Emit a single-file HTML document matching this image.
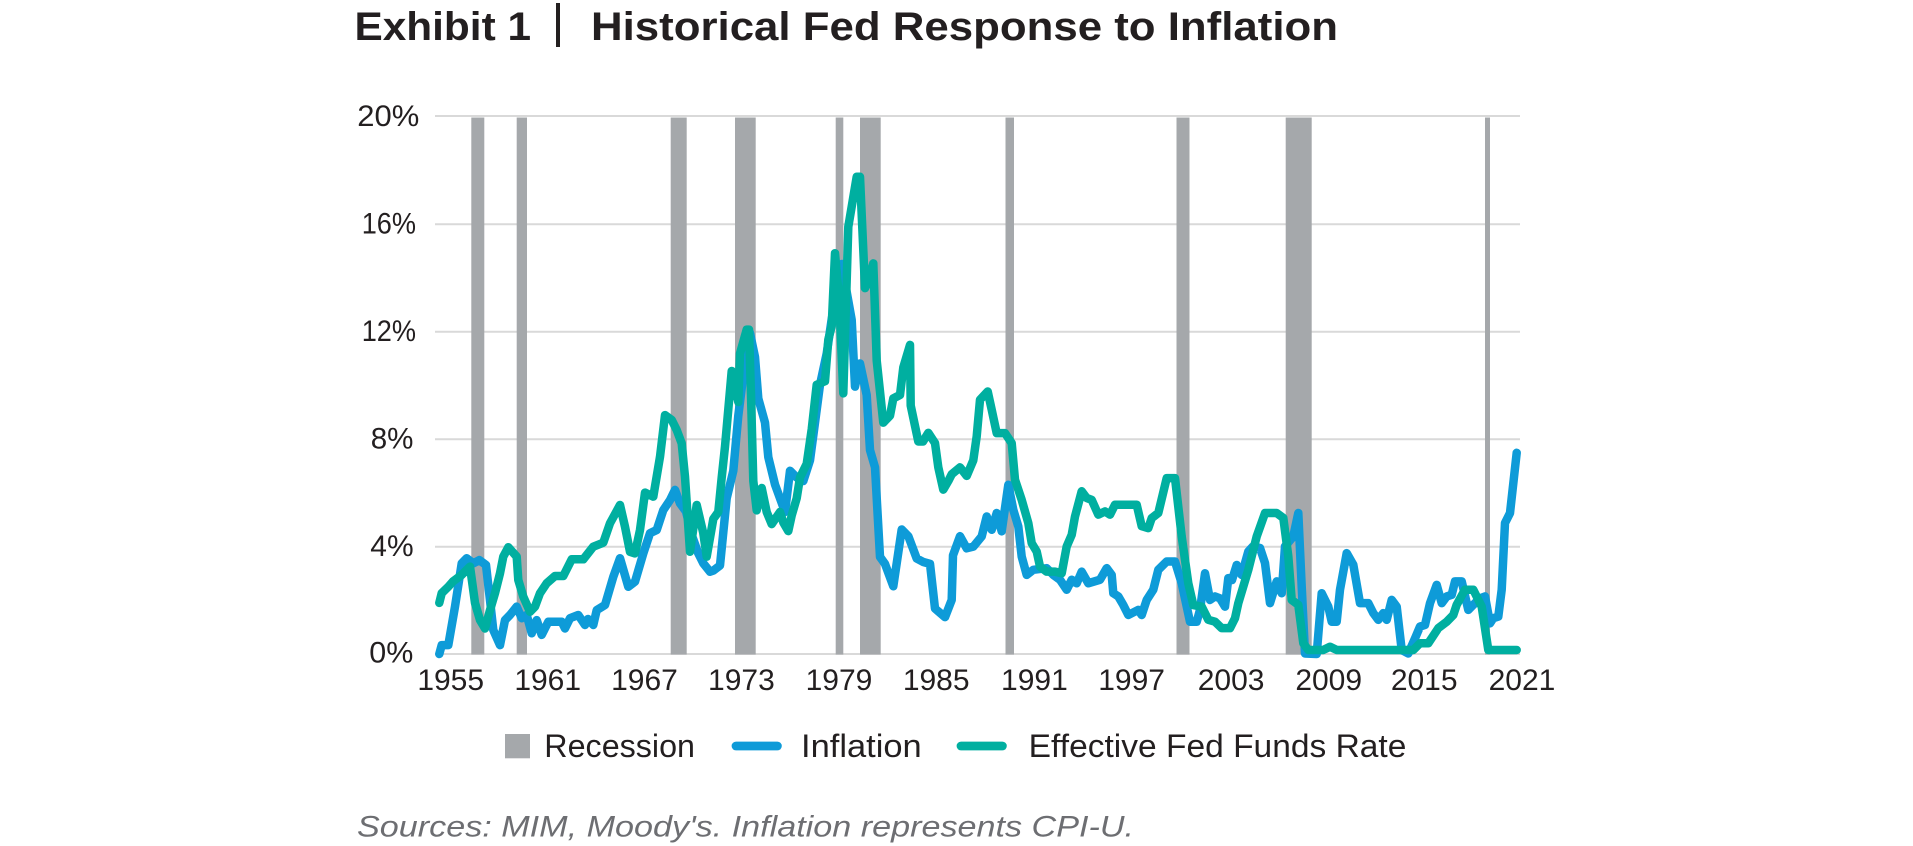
<!DOCTYPE html>
<html>
<head>
<meta charset="utf-8">
<style>
  html,body{margin:0;padding:0;background:#ffffff;}
  body{width:1913px;height:846px;overflow:hidden;}
  svg{display:block;}
  text{font-family:"Liberation Sans",sans-serif;fill:#231f20;}
</style>
</head>
<body>
<svg width="1913" height="846" viewBox="0 0 1913 846" xmlns="http://www.w3.org/2000/svg">
  <!-- Title -->
  <text x="354.5" y="40" font-size="40" font-weight="bold" textLength="176.5" lengthAdjust="spacingAndGlyphs">Exhibit 1</text>
  <rect x="556" y="3" width="4" height="44" fill="#231f20"/>
  <text x="591" y="40" font-size="40" font-weight="bold" textLength="747" lengthAdjust="spacingAndGlyphs">Historical Fed Response to Inflation</text>

  <!-- Gridlines -->
  <g stroke="#d9d9d9" stroke-width="2">
    <line x1="435" y1="116" x2="1520" y2="116"/>
    <line x1="435" y1="224.3" x2="1520" y2="224.3"/>
    <line x1="435" y1="331.7" x2="1520" y2="331.7"/>
    <line x1="435" y1="439.3" x2="1520" y2="439.3"/>
    <line x1="435" y1="546.7" x2="1520" y2="546.7"/>
    <line x1="435" y1="654" x2="1520" y2="654"/>
  </g>

  <!-- Recession bars -->
  <g fill="#a5a8ab">
    <rect x="471.3" y="117.5" width="13" height="537"/>
    <rect x="516.7" y="117.5" width="10.3" height="537"/>
    <rect x="670.7" y="117.5" width="16" height="537"/>
    <rect x="735" y="117.5" width="20.7" height="537"/>
    <rect x="835.7" y="117.5" width="7.6" height="537"/>
    <rect x="860" y="117.5" width="20.7" height="537"/>
    <rect x="1005.5" y="117.5" width="8.5" height="537"/>
    <rect x="1176.5" y="117.5" width="13" height="537"/>
    <rect x="1285.7" y="117.5" width="26" height="537"/>
    <rect x="1485" y="117.5" width="5" height="537"/>
  </g>

  <!-- Y labels -->
  <g font-size="30">
    <text x="357.3" y="126" textLength="62" lengthAdjust="spacingAndGlyphs">20%</text>
    <text x="361.7" y="233.5" textLength="54.3" lengthAdjust="spacingAndGlyphs">16%</text>
    <text x="361.7" y="340.8" textLength="54.3" lengthAdjust="spacingAndGlyphs">12%</text>
    <text x="370.7" y="448.6" textLength="42.7" lengthAdjust="spacingAndGlyphs">8%</text>
    <text x="370.3" y="555.8" textLength="43.3" lengthAdjust="spacingAndGlyphs">4%</text>
    <text x="369.3" y="662.3" textLength="44" lengthAdjust="spacingAndGlyphs">0%</text>
  </g>

  <!-- X labels -->
  <g font-size="30" text-anchor="middle">
    <text x="450.7" y="690">1955</text>
    <text x="547.7" y="690">1961</text>
    <text x="644.5" y="690">1967</text>
    <text x="741.4" y="690">1973</text>
    <text x="839" y="690">1979</text>
    <text x="936.2" y="690">1985</text>
    <text x="1034.4" y="690">1991</text>
    <text x="1131.6" y="690">1997</text>
    <text x="1231.1" y="690">2003</text>
    <text x="1328.7" y="690">2009</text>
    <text x="1424.2" y="690">2015</text>
    <text x="1522" y="690">2021</text>
  </g>

  <!-- Series -->
  <g transform="matrix(1,0,0,-26.9,0,654)" fill="none" stroke-linecap="round" stroke-linejoin="round">
    <polyline vector-effect="non-scaling-stroke" stroke="#0e9bd8" stroke-width="8.5" points="439.3,0 441.7,0.33 448.3,0.33 455,1.76 461.7,3.37 466.7,3.56 473.3,3.37 479.3,3.49 486,3.31 490,2.0 493.3,0.89 500,0.33 505,1.26 510,1.45 516.7,1.76 521.7,1.33 526.7,1.45 531.7,0.77 536.7,1.26 541.7,0.71 548.3,1.2 561.7,1.2 565,0.95 570,1.33 578.3,1.45 585,1.08 588,1.3 593.3,1.08 596.7,1.63 605,1.82 613.3,2.87 620,3.56 628.3,2.5 635,2.69 643.3,3.74 650,4.49 656.7,4.61 663.3,5.35 670,5.72 675,6.1 680,5.6 686,5.3 692,4.4 698.3,3.74 703.3,3.37 710,3.06 713.3,3.1 720,3.29 726.7,5.79 733.3,6.81 738.3,8.86 741.7,9.88 746.7,11.55 750,11.93 755,11.04 758.3,9.5 765,8.6 768.3,7.32 775,6.3 780,5.79 785,5.28 790,6.81 796.7,6.56 803.3,6.43 810,7.2 815,8.6 820,10.01 826.7,11.17 831.7,12.45 836.7,13.47 841.7,14.5 851.7,12.42 855,9.94 860,10.8 866.7,9.63 870,7.58 875,6.94 880,3.61 885,3.35 893.3,2.52 901.7,4.63 908.3,4.38 916.7,3.55 923.3,3.42 930,3.35 935,1.69 945,1.37 951.7,2.01 953,3.67 960,4.38 966.7,3.93 973.3,3.99 981.7,4.37 986.7,5.11 991.7,4.62 996.7,5.24 1001.7,4.56 1008.3,6.29 1013.3,5.36 1018.3,4.74 1021.7,3.62 1026.7,2.94 1033.3,3.13 1046.7,3.19 1053.3,2.94 1060,2.76 1066.7,2.39 1071.7,2.76 1076.7,2.63 1081.7,3.06 1088.3,2.63 1100,2.76 1106.7,3.19 1111.7,2.94 1113.3,2.26 1118.3,2.14 1123.3,1.82 1128.3,1.45 1138.3,1.64 1141.7,1.45 1146.7,2.01 1153.3,2.39 1158.3,3.13 1166.7,3.44 1175,3.44 1181.7,2.63 1190,1.2 1196.7,1.2 1200,1.64 1205,3.0 1210,2.01 1215,2.14 1220,2.07 1225,1.76 1228.3,2.82 1232,2.75 1236.7,3.31 1241.7,2.94 1248.3,3.81 1253,4.0 1260,3.94 1265,3.38 1270,1.89 1276.7,2.7 1281.7,2.26 1285,4.0 1293.3,4.37 1298.3,5.24 1301.7,2.51 1305,0.02 1316.7,0 1321.7,2.26 1328.3,1.76 1331.7,1.2 1336.7,1.2 1340,2.39 1346.7,3.75 1353.3,3.32 1360,1.89 1368.3,1.89 1373.3,1.52 1378.3,1.27 1383.3,1.52 1386.7,1.27 1391.7,2.01 1396.7,1.76 1401.7,0.15 1408.3,0.02 1415,0.58 1420,1.02 1425,1.08 1430,1.89 1436.7,2.57 1441.7,1.89 1446.7,2.14 1451.7,2.2 1455,2.7 1461.7,2.7 1468.3,1.64 1473.3,1.83 1480,2.07 1485,2.14 1490,1.14 1493.3,1.33 1498.3,1.39 1501.7,2.39 1505,4.87 1510,5.24 1516.7,7.48"/>
    <polyline vector-effect="non-scaling-stroke" stroke="#00afa0" stroke-width="8.5" points="439.3,1.9 441.7,2.26 448.3,2.5 453,2.7 461.7,2.94 470,3.25 475,1.9 480,1.26 485,0.95 490,1.63 495,2.26 500,3.0 503.3,3.62 508.3,3.97 516.7,3.62 518.3,2.75 523.3,2.13 530,1.57 535,1.76 540,2.26 546.7,2.63 555,2.9 563.3,2.9 571.7,3.52 583.3,3.52 593.3,3.99 603.3,4.14 610,4.86 620,5.54 625,4.73 630,3.8 635,3.74 640,4.61 645,6.0 653.3,5.85 660,7.33 665,8.88 671.7,8.7 676.7,8.33 681.7,7.83 685,6.59 690,3.8 696.7,5.54 703.3,4.49 706.7,3.62 713.3,5.02 718.3,5.28 721.7,6.56 725,7.71 731.7,10.52 738.3,9.37 740,11.17 746.7,12.06 749,12.06 751,9.63 753.3,6.43 756.7,5.34 761.7,6.17 766.7,5.28 771.7,4.83 780,5.28 783.3,4.89 788.3,4.57 791.7,5.15 796.7,5.79 800,6.56 806.7,7.07 811.7,8.35 816.7,10.01 825,10.14 828.3,11.68 831.7,12.19 835,14.9 839.3,13.09 843.3,9.69 848.3,15.88 856.7,17.74 860,17.74 865,13.6 868.3,13.85 873.3,14.52 876.7,10.91 883.3,8.6 890,8.86 893.3,9.5 900,9.63 903.3,10.65 910,11.49 910.7,9.24 915,8.48 918.3,7.9 923,7.9 928.3,8.22 935,7.84 938.3,6.94 943.3,6.11 948.3,6.43 951.7,6.68 960,6.94 966.7,6.62 973.3,7.2 976.7,8.09 980,9.45 987.7,9.76 991.7,9.08 996.7,8.21 1005,8.21 1011.7,7.84 1015,6.48 1021.7,5.73 1028.3,4.87 1031.7,4.12 1036.7,3.81 1040,3.25 1046.7,3.06 1055,3.06 1061.7,3.0 1066.7,4.0 1071.7,4.43 1075,5.11 1081.7,6.05 1086.7,5.8 1091.7,5.73 1098.3,5.18 1105,5.3 1110,5.18 1115,5.55 1136.7,5.55 1141.7,4.75 1148.3,4.68 1151.7,5.05 1158.3,5.24 1166.7,6.54 1175,6.54 1181.7,4.37 1188.3,2.63 1193.3,1.82 1201.7,1.76 1208.3,1.27 1215,1.2 1221.7,0.96 1230,0.96 1235,1.33 1238.3,1.89 1243.3,2.51 1248.3,3.13 1256.7,4.37 1265,5.24 1276.7,5.24 1283.3,5.06 1288.3,3.63 1291.7,2.01 1298.3,1.83 1303.3,0.4 1308.3,0.15 1323.3,0.15 1330,0.27 1336.7,0.15 1413.3,0.15 1420,0.4 1428.3,0.4 1438.3,0.96 1446.7,1.2 1453.3,1.45 1456.7,1.83 1465,2.39 1473.3,2.39 1481.7,1.76 1488.3,0.15 1516.7,0.15"/>
  </g>

  <!-- Legend -->
  <rect x="505" y="734" width="25" height="24.3" fill="#a5a8ab"/>
  <text x="544.3" y="757" font-size="32" textLength="150.7" lengthAdjust="spacingAndGlyphs">Recession</text>
  <line x1="736" y1="746" x2="777.4" y2="746" stroke="#0e9bd8" stroke-width="8.8" stroke-linecap="round"/>
  <text x="801" y="757" font-size="32" textLength="120.7" lengthAdjust="spacingAndGlyphs">Inflation</text>
  <line x1="961" y1="746" x2="1002.4" y2="746" stroke="#00afa0" stroke-width="8.8" stroke-linecap="round"/>
  <text x="1028.7" y="757" font-size="32" textLength="377.7" lengthAdjust="spacingAndGlyphs">Effective Fed Funds Rate</text>

  <!-- Source -->
  <text x="357" y="836.5" font-size="30" font-style="italic" style="fill:#6d6e72" textLength="777" lengthAdjust="spacingAndGlyphs">Sources: MIM, Moody's. Inflation represents CPI-U.</text>
</svg>
</body>
</html>
